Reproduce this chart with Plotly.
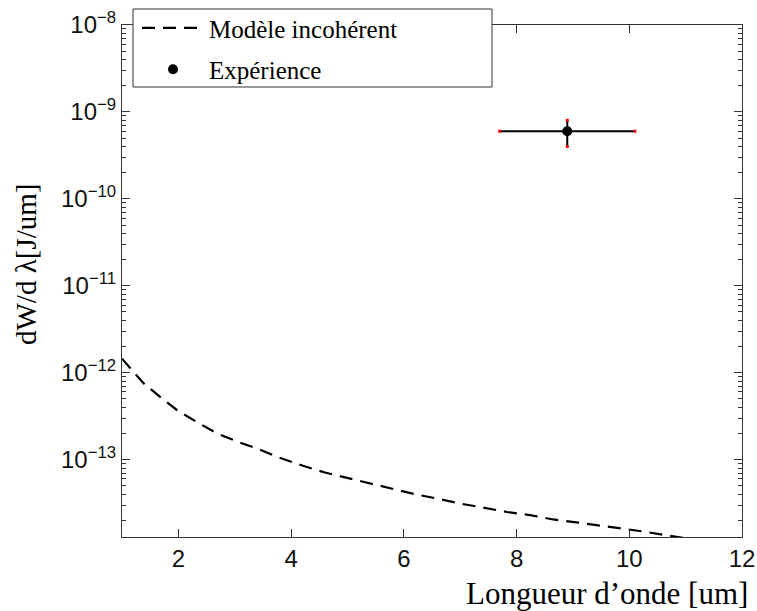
import plotly.graph_objects as go

# Incoherent model: spectral energy vs wavelength
model_wavelength = [1.0, 1.37, 1.67, 1.98, 2.33, 2.69, 3.06, 3.45, 3.80, 4.21, 4.60, 4.99,
                    5.40, 5.79, 6.20, 6.61, 7.03, 7.41, 7.83, 8.24, 8.65, 9.06, 9.45,
                    9.87, 10.28, 10.67, 11.0]
model_energy = [1.45e-12, 7.7e-13, 5.3e-13, 3.7e-13, 2.7e-13, 2.0e-13, 1.6e-13, 1.3e-13,
                1.05e-13, 8.5e-14, 7.1e-14, 6.2e-14, 5.3e-14, 4.7e-14, 4.0e-14, 3.55e-14,
                3.1e-14, 2.8e-14, 2.5e-14, 2.3e-14, 2.05e-14, 1.9e-14, 1.75e-14, 1.62e-14,
                1.48e-14, 1.34e-14, 1.25e-14]

# Measured point with its uncertainties
exp_wavelength = [8.9]
exp_energy = [6e-10]
exp_wavelength_err = [1.2]
exp_energy_err = [2e-10]

y_major = [1e-13, 1e-12, 1e-11, 1e-10, 1e-9, 1e-8]
y_major_text = ["10<sup>−13</sup>", "10<sup>−12</sup>", "10<sup>−11</sup>",
                "10<sup>−10</sup>", "10<sup>−9</sup>", "10<sup>−8</sup>"]
y_minor = [m * d for d in [1e-14, 1e-13, 1e-12, 1e-11, 1e-10, 1e-9] for m in range(2, 10)]

serif = "Liberation Serif"
sans = "Liberation Sans"

fig = go.Figure()

fig.add_trace(go.Scatter(
    x=model_wavelength, y=model_energy, mode="lines",
    name="Modèle incohérent", legendgroup="model",
    line=dict(color="black", width=2.2, dash="13px,8px"),
))

fig.add_trace(go.Scatter(
    x=exp_wavelength, y=exp_energy, mode="markers",
    name="Expérience", legendgroup="exp",
    marker=dict(color="black", size=10),
    error_x=dict(type="data", array=exp_wavelength_err, color="black", thickness=2, width=0),
    error_y=dict(type="data", array=exp_energy_err, color="black", thickness=2, width=0),
))

# red end points of the error bars
ends_x = [exp_wavelength[0] - exp_wavelength_err[0], exp_wavelength[0] + exp_wavelength_err[0],
          exp_wavelength[0], exp_wavelength[0]]
ends_y = [exp_energy[0], exp_energy[0],
          exp_energy[0] + exp_energy_err[0], exp_energy[0] - exp_energy_err[0]]
fig.add_trace(go.Scatter(
    x=ends_x, y=ends_y, mode="markers", showlegend=False, hoverinfo="skip",
    marker=dict(color="red", size=3, symbol="square"),
))

axis_common = dict(
    showline=True, linecolor="#333", linewidth=1, mirror="ticks",
    ticks="inside", ticklen=8, tickcolor="#333", showgrid=False, zeroline=False,
    tickfont=dict(family=sans, size=24, color="#111"),
)

fig.update_layout(
    width=757, height=611,
    margin=dict(l=122, r=15, t=25, b=74, autoexpand=False),
    paper_bgcolor="white", plot_bgcolor="white",
    xaxis=dict(range=[1, 12], tick0=0, dtick=2, **axis_common),
    yaxis=dict(type="log", range=[-13.89, -8], tickvals=y_major, ticktext=y_major_text,
               minor=dict(tickvals=y_minor, ticks="inside", ticklen=4, tickcolor="#333"),
               **axis_common),
    showlegend=True,
    legend=dict(x=15 / 620, y=1.039, xanchor="left", yanchor="top",
                bgcolor="rgba(0,0,0,0)", borderwidth=0,
                font=dict(family=serif, size=25, color="black"),
                tracegroupgap=6, itemwidth=62),
    shapes=[dict(type="rect", xref="paper", yref="paper",
                 x0=(133 - 122) / 620, x1=(492 - 122) / 620,
                 y0=1 - (87 - 25) / 512, y1=1 + (25 - 9) / 512,
                 line=dict(color="#333", width=1), fillcolor="white", layer="above")],
    annotations=[
        dict(text="dW/d λ[J/um]", xref="paper", yref="paper",
             x=(26 - 122) / 620, y=1 - (265 - 25) / 512, textangle=-90,
             xanchor="center", yanchor="middle", showarrow=False,
             font=dict(family=serif, size=29, color="black")),
        dict(text="Longueur d’onde [um]", xref="paper", yref="paper",
             x=1.0 + 8 / 620, y=-(593 - 537) / 512, xanchor="right", yanchor="middle",
             showarrow=False, font=dict(family=serif, size=31, color="black")),
    ],
)

fig.write_html("out.html")
